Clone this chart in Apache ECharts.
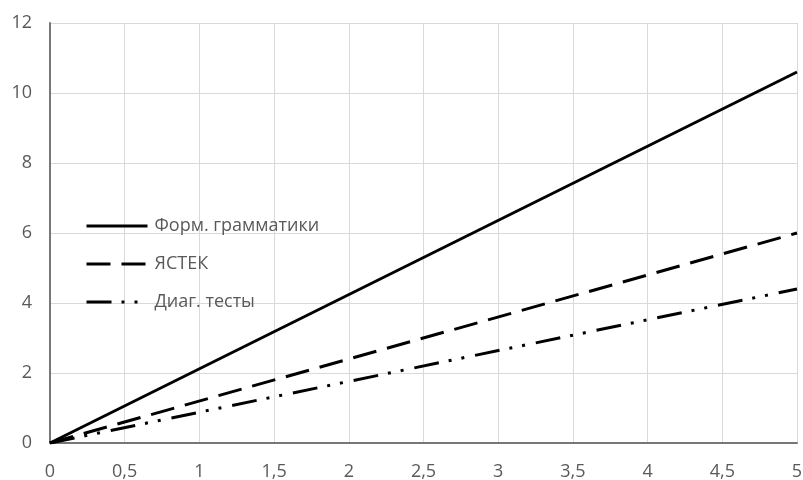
<!DOCTYPE html>
<html>
<head>
<meta charset="utf-8">
<script src="https://cdn.jsdelivr.net/npm/echarts@6/dist/echarts.min.js"></script>
<style>
  html, body { margin: 0; padding: 0; background: #fff; }
  #chart { width: 803px; height: 480px; }
</style>
</head>
<body>
<div id="chart"></div>
<script>
// Series names and their values at x = 0 and x = 5
const seriesNames = ['Форм. грамматики', 'ЯСТЕК', 'Диаг. тесты'];
const xValues = [0, 5];
const formGrammar = [0, 10.6];
const yastek = [0, 6.0];
const diagTests = [0, 4.4];

const FONT = '"Open Sans", "Noto Sans", sans-serif';
const TEXT = '#595959';

function pairs(ys) { return xValues.map((x, i) => [x, ys[i]]); }
function commaLabel(v) { return String(v).replace('.', ','); }

function lineSeries(name, ys, dash) {
  return {
    name: name,
    type: 'line',
    data: pairs(ys),
    symbol: 'none',
    lineStyle: { color: '#000', width: 3, type: dash, cap: 'butt' },
    itemStyle: { color: '#000' },
    silent: true,
    animation: false
  };
}

const chart = echarts.init(document.getElementById('chart'), null, { renderer: 'canvas' });
chart.setOption({
  animation: false,
  backgroundColor: '#fff',
  grid: { left: 50, right: 6, top: 23, bottom: 37, containLabel: false, outerBoundsMode: 'none' },
  legend: {
    orient: 'vertical',
    left: 80,
    top: 212,
    itemWidth: 61,
    itemHeight: 14,
    itemGap: 20,
    itemStyle: { opacity: 0 },
    lineStyle: { width: 3 },
    textStyle: { color: TEXT, fontFamily: FONT, fontSize: 18, padding: [0, 0, 0, 2] },
    data: seriesNames
  },
  xAxis: {
    type: 'value',
    min: 0, max: 5, interval: 0.5,
    axisLine: { show: true, lineStyle: { color: '#777', width: 2 } },
    axisTick: { show: false },
    splitLine: { show: true, lineStyle: { color: '#d9d9d9', width: 1 } },
    axisLabel: { color: TEXT, fontFamily: FONT, fontSize: 18, margin: 20, formatter: commaLabel }
  },
  yAxis: {
    type: 'value',
    min: 0, max: 12, interval: 2,
    axisLine: { show: true, lineStyle: { color: '#777', width: 2 } },
    axisTick: { show: false },
    splitLine: { show: true, lineStyle: { color: '#d9d9d9', width: 1 } },
    axisLabel: { color: TEXT, fontFamily: FONT, fontSize: 18, margin: 18 }
  },
  series: [
    lineSeries(seriesNames[0], formGrammar, 'solid'),
    lineSeries(seriesNames[1], yastek, [24, 11]),
    lineSeries(seriesNames[2], diagTests, [25, 10, 3, 10, 3, 11])
  ]
});
</script>
</body>
</html>
